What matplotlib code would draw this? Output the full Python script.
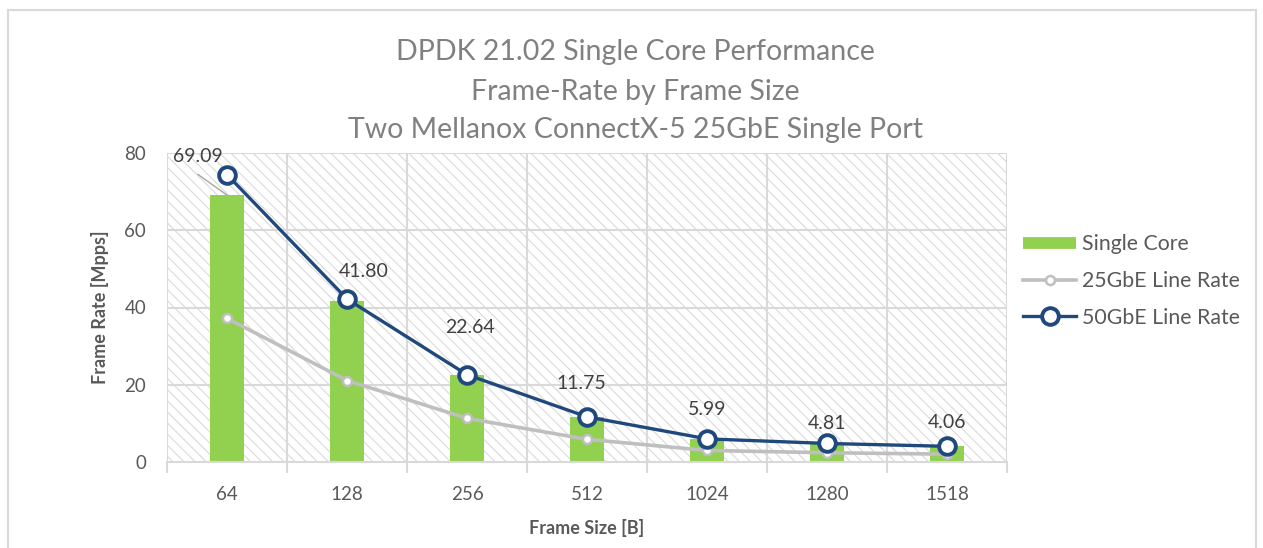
import matplotlib
matplotlib.use("Agg")
import matplotlib.pyplot as plt
from matplotlib.patches import Rectangle
from matplotlib.lines import Line2D
import numpy as np

categories = ["64", "128", "256", "512", "1024", "1280", "1518"]
single_core = [69.09, 41.80, 22.64, 11.75, 5.99, 4.81, 4.06]
line_25g = [37.2, 21.1, 11.3, 5.87, 2.99, 2.40, 2.03]
line_50g = [74.4, 42.2, 22.6, 11.7, 5.99, 4.80, 4.06]
y_ticks = [0, 20, 40, 60, 80]
# label offsets in points (dx, dy) from bar top
label_offsets = [(-21, 27.5), (12, 21), (2, 34), (-4, 24), (0, 21), (0, 14.7), (0, 16.8)]

plt.rcParams['font.family'] = ['Lato', 'DejaVu Sans']
plt.rcParams['hatch.color'] = '#dadada'
plt.rcParams['hatch.linewidth'] = 0.8

fig = plt.figure(figsize=(12.63, 5.48), dpi=100)
ax = fig.add_axes([167/1263, 86/548, 840/1263, 309/548])

x = np.arange(len(categories))
ax.set_xlim(-0.5, len(categories) - 0.5)
ax.set_ylim(0, 80)

bg = Rectangle((0, 0), 1, 1, transform=ax.transAxes, facecolor='white',
               edgecolor='#dadada', hatch='\\\\\\', linewidth=0, zorder=0)
ax.add_patch(bg)

for yv in y_ticks[1:]:
    ax.axhline(yv, color='#d9d9d9', lw=1.5, zorder=1)
for xv in np.arange(-0.5, len(categories) + 0.5, 1):
    ax.axvline(xv, color='#d9d9d9', lw=1.5, zorder=1)

ax.bar(x, single_core, width=0.29, color='#92D050', zorder=2)
ax.plot(x, line_25g, color='#BFBFBF', lw=2.6, marker='o', ms=6.5,
        mfc='white', mec='#BFBFBF', mew=1.8, zorder=3)
ax.plot(x, line_50g, color='#1F497D', lw=2.4, marker='o', ms=12,
        mfc='white', mec='#1F497D', mew=2.8, zorder=4)

for i, v in enumerate(single_core):
    dx, dy = label_offsets[i]
    ax.annotate(f"{v:.2f}", xy=(x[i], v), xytext=(dx, dy),
                textcoords='offset points', ha='center', va='center',
                fontsize=14, color='#404040', zorder=6)
ax.annotate("", xy=(x[0], single_core[0]), xytext=(-21, 15),
            textcoords='offset points',
            arrowprops=dict(arrowstyle='-', color='#a6a6a6', lw=1.0,
                            shrinkA=0, shrinkB=0), zorder=5)

for s in ['top', 'right', 'left']:
    ax.spines[s].set_visible(False)
ax.spines['bottom'].set_color('#d9d9d9')
ax.spines['bottom'].set_linewidth(1.5)

ax.set_yticks(y_ticks)
ax.set_yticklabels([str(t) for t in y_ticks])
ax.tick_params(axis='y', length=0, pad=15, labelsize=13.5, labelcolor='#595959')
ax.set_xticks(np.arange(-0.5, len(categories) + 0.5, 1), minor=False)
ax.set_xticklabels([])
ax.set_xticks(x, minor=True)
ax.set_xticklabels(categories, minor=True)
ax.tick_params(axis='x', which='major', length=8, width=1.5, color='#d9d9d9')
ax.tick_params(axis='x', which='minor', length=0, pad=17, labelsize=13.5, labelcolor='#595959')

ax.set_xlabel("Frame Size [B]", fontsize=13, fontweight='bold', color='#595959', labelpad=12)
ax.set_ylabel("Frame Rate [Mpps]", fontsize=13, fontweight='bold', color='#595959', labelpad=11)

title_lines = ["DPDK 21.02 Single Core Performance", "Frame-Rate by Frame Size",
               "Two Mellanox ConnectX-5 25GbE Single Port"]
for t, yp in zip(title_lines, [52, 92, 130]):
    fig.text(635/1263, 1 - yp/548, t, ha='center', va='center',
             fontsize=20.5, color='#808080')

handles = [Line2D([], [], color='#92D050', lw=8.5, solid_capstyle='butt'),
           Line2D([], [], color='#BFBFBF', lw=2.6, marker='o', ms=6.5, mfc='white',
                  mec='#BFBFBF', mew=1.8),
           Line2D([], [], color='#1F497D', lw=2.4, marker='o', ms=12, mfc='white',
                  mec='#1F497D', mew=2.8)]
labels = ["Single Core", "25GbE Line Rate", "50GbE Line Rate"]
leg = ax.legend(handles, labels, loc='center left', bbox_to_anchor=((1023 - 167)/840, (462-281)/309),
                frameon=False, fontsize=15.3, labelcolor='#595959', handlelength=2.5,
                handletextpad=0.3, labelspacing=0.78, borderaxespad=0, borderpad=0)

border = Rectangle((8/1263, -0.1), (1256 - 8)/1263, 1 - 10/548 + 0.1, transform=fig.transFigure,
                   fill=False, edgecolor='#d9d9d9', lw=1.5, clip_on=False)
fig.patches.append(border)

fig.savefig("out.png", dpi=100)
